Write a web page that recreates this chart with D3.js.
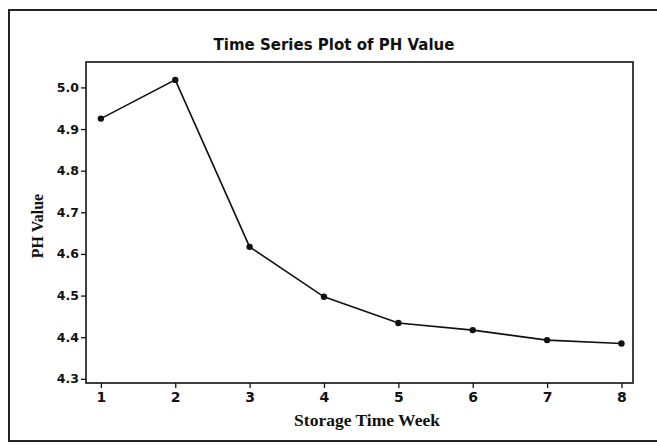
<!DOCTYPE html>
<html>
<head>
<meta charset="utf-8">
<script src="https://cdn.jsdelivr.net/npm/d3@7"></script>
<style>
  body { margin: 0; background: #fff; }
  .tick text { font-family: "DejaVu Sans", sans-serif; font-weight: bold; font-size: 12.5px; fill: #111; }
  .tick line { stroke: #111; stroke-width: 1.3; }
</style>
</head>
<body>
<div id="chart"></div>
<script>
// data
const weeks = [1, 2, 3, 4, 5, 6, 7, 8];
const phValues = [4.925, 5.018, 4.617, 4.497, 4.434, 4.417, 4.393, 4.385];
const yTicks = [4.3, 4.4, 4.5, 4.6, 4.7, 4.8, 4.9, 5.0];

const width = 657;
const height = 445;
const margin = { top: 62, right: 24, bottom: 62, left: 86 };

const svg = d3.select("#chart")
  .append("svg")
    .attr("width", width)
    .attr("height", height);

// outer frame (scan shows top, left and bottom edges)
const frame = svg.append("g").attr("class", "frame");
frame.append("path")
  .attr("d", `M${width},10 L9,10 L9,441 L${width},441`)
  .attr("fill", "none")
  .attr("stroke", "#222")
  .attr("stroke-width", 2);

const x = d3.scaleLinear([0.8, 8.155], [margin.left, width - margin.right]);
const y = d3.scaleLinear([4.29, 5.061], [height - margin.bottom, margin.top]);

// plot box
svg.append("rect")
  .attr("x", margin.left)
  .attr("y", margin.top)
  .attr("width", width - margin.right - margin.left)
  .attr("height", height - margin.bottom - margin.top)
  .attr("fill", "none")
  .attr("stroke", "#111")
  .attr("stroke-width", 1.6);

svg.append("g")
    .attr("class", "yAxis")
    .attr("transform", `translate(${margin.left}, 0)`)
    .call(d3.axisLeft(y).tickValues(yTicks).tickFormat(d3.format(".1f")).tickSize(5).tickPadding(2))
  .call(g => g.select(".domain").remove());

svg.append("g")
    .attr("class", "xAxis")
    .attr("transform", `translate(0, ${height - margin.bottom})`)
    .call(d3.axisBottom(x).tickValues(weeks).tickFormat(d3.format("d")).tickSize(5).tickPadding(4))
  .call(g => g.select(".domain").remove())
  .selectAll("text")
    .style("font-size", "14px");

const line = d3.line()
  .x((d, i) => x(weeks[i]))
  .y(d => y(d));

svg.append("path")
  .datum(phValues)
  .attr("fill", "none")
  .attr("stroke", "#111")
  .attr("stroke-width", 1.6)
  .attr("d", line);

svg.append("g")
    .attr("class", "points")
  .selectAll("circle")
  .data(phValues)
  .join("circle")
    .attr("cx", (d, i) => x(weeks[i]))
    .attr("cy", d => y(d))
    .attr("r", 3.2)
    .attr("fill", "#111");

svg.append("text")
  .attr("x", 334)
  .attr("y", 50)
  .attr("text-anchor", "middle")
  .attr("font-family", "DejaVu Sans, sans-serif")
  .attr("font-weight", "bold")
  .attr("font-size", 15)
  .attr("fill", "#111")
  .text("Time Series Plot of PH Value");

svg.append("text")
  .attr("x", 367)
  .attr("y", 426)
  .attr("text-anchor", "middle")
  .attr("font-family", "Liberation Serif, serif")
  .attr("font-weight", "bold")
  .attr("font-size", 17.5)
  .attr("fill", "#111")
  .text("Storage Time Week");

svg.append("text")
  .attr("transform", `translate(43, 226) rotate(-90)`)
  .attr("text-anchor", "middle")
  .attr("font-family", "Liberation Serif, serif")
  .attr("font-weight", "bold")
  .attr("font-size", 16)
  .attr("fill", "#111")
  .text("PH Value");
</script>
</body>
</html>
